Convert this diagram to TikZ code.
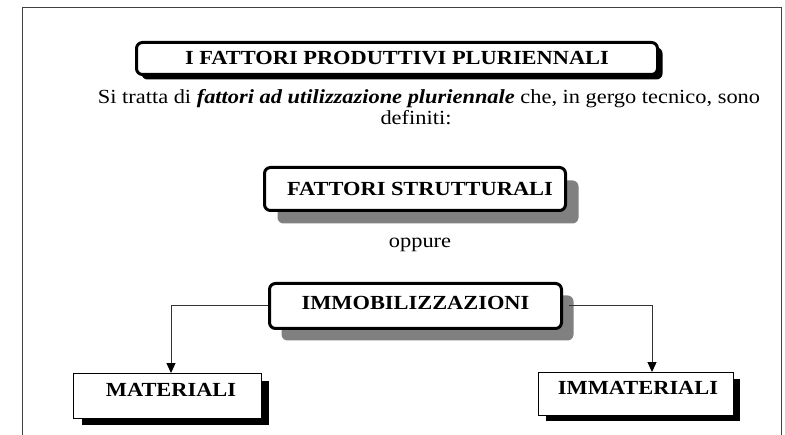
\documentclass[tikz,border=0pt]{standalone}
\usepackage{fontspec}
\setmainfont{Liberation Serif}[FakeStretch=1.12]
\usetikzlibrary{arrows.meta,shadows}
\definecolor{shadowgray}{HTML}{808080}
\definecolor{framegray}{HTML}{404040}
\definecolor{linkgray}{HTML}{333333}
\begin{document}
\begin{tikzpicture}[x=1pt,y=-1pt,
  every node/.style={font=\fontsize{20}{21}\selectfont},
  bigbox/.style={draw=black,fill=white,line width=3pt,rounded corners=6pt,inner sep=0pt,font=\fontsize{20}{21}\selectfont\bfseries},
  smallbox/.style={draw=black,fill=white,line width=1.3pt,inner sep=0pt,font=\fontsize{20}{21}\selectfont\bfseries},
  link/.style={draw=linkgray,line width=1pt,-{Triangle[width=9pt,length=10pt,color=black]}}]
\useasboundingbox (0,0) rectangle (785,435);
\draw[framegray,line width=1pt] (22,435) -- (22,8) -- (781,8) -- (781,435);

\node[bigbox,minimum width=521pt,minimum height=32pt,
  drop shadow={shadow xshift=5pt,shadow yshift=-5pt,fill=black,opacity=1}]
  (title) at (397,58.5) {I FATTORI PRODUTTIVI PLURIENNALI};

\node[anchor=base] (l1) at (429,104) {Si tratta di \textbf{\textit{fattori ad utilizzazione pluriennale}} che, in gergo tecnico, sono};
\node[anchor=base] (l2) at (416,125) {definiti:};

\node[bigbox,minimum width=301pt,minimum height=43pt,
  drop shadow={shadow xshift=13pt,shadow yshift=-13pt,fill=shadowgray,opacity=1}]
  (fs) at (415,189) {\hspace*{10pt}FATTORI STRUTTURALI};

\node (opp) at (420,245) {oppure};

\node[bigbox,minimum width=292pt,minimum height=45pt,
  drop shadow={shadow xshift=12pt,shadow yshift=-12pt,fill=shadowgray,opacity=1}]
  (imm) at (415.5,306) {\raisebox{3pt}[\height][\depth]{IMMOBILIZZAZIONI}};

\node[smallbox,minimum width=187.6pt,minimum height=44.6pt,
  drop shadow={shadow xshift=8pt,shadow yshift=-7pt,fill=black,opacity=1}]
  (mat) at (167.5,396) {\hspace*{7pt}\raisebox{6pt}[\height][\depth]{MATERIALI}};

\node[smallbox,minimum width=194.6pt,minimum height=42.6pt,
  drop shadow={shadow xshift=7pt,shadow yshift=-6pt,fill=black,opacity=1}]
  (immat) at (636,394) {\hspace*{4pt}\raisebox{6pt}[\height][\depth]{IMMATERIALI}};

\draw[link] (imm.west) -| ([xshift=3.5pt]mat.north);
\draw[link] ([xshift=6pt]imm.east) -| ([xshift=16pt]immat.north);
\end{tikzpicture}
\end{document}
